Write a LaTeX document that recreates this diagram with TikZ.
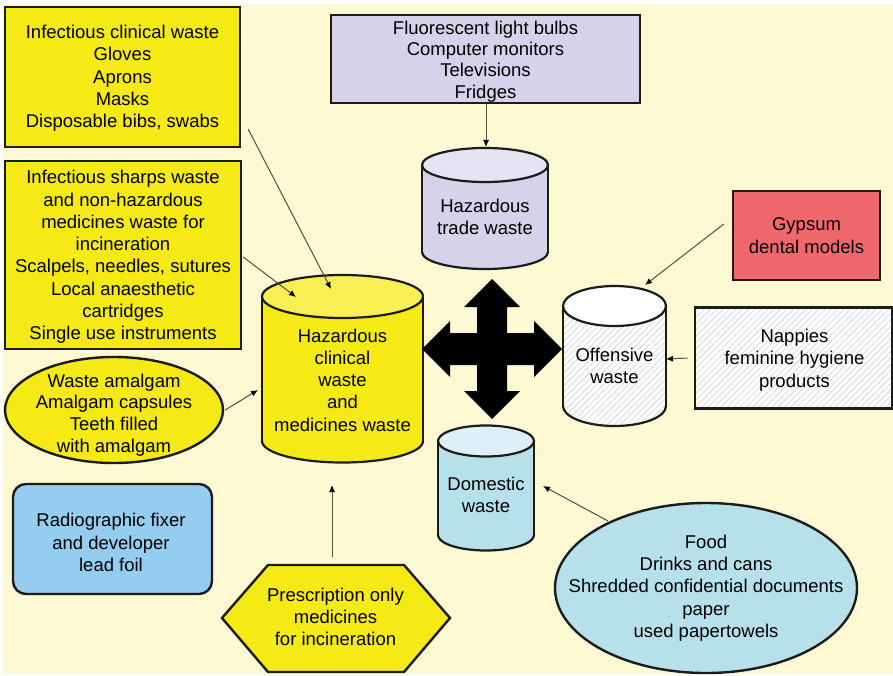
\documentclass[tikz,border=0pt]{standalone}
\usepackage{fontspec}
\setmainfont{Liberation Sans}
\usetikzlibrary{arrows.meta,shapes.geometric,patterns.meta}
\definecolor{bg}{RGB}{254,249,211}
\definecolor{ylw}{RGB}{246,234,22}
\definecolor{ylwtop}{RGB}{248,239,85}
\definecolor{lav}{RGB}{213,210,234}
\definecolor{lavtop}{RGB}{230,228,243}
\definecolor{gyp}{RGB}{240,104,108}
\definecolor{radb}{RGB}{149,205,240}
\definecolor{cyanb}{RGB}{183,225,234}
\definecolor{cyantop}{RGB}{222,240,247}
\definecolor{edgec}{RGB}{28,28,28}
\definecolor{conncol}{RGB}{85,75,65}
\newcommand{\mycyl}[7]{%
  \fill[#6] (#1,#4) ellipse [x radius=#2pt, y radius=#5pt];
  \draw[cylline] (#1,#4) ellipse [x radius=#2pt, y radius=#5pt];
  \fill[#6] (#1-#2,#3) rectangle (#1+#2,#4);
  \draw[cylline] (#1-#2,#3) -- (#1-#2,#4) (#1+#2,#3) -- (#1+#2,#4);
  \filldraw[cylline, #7] (#1,#3) ellipse [x radius=#2pt, y radius=#5pt];
}
\begin{document}
\begin{tikzpicture}[x=1pt,y=-1pt,
  txt/.style={font=\fontsize{18.5}{22.3}\selectfont, align=center, text=black, inner sep=0pt},
  box/.style={draw=edgec, line width=2.4pt, inner sep=0pt},
  conn/.style={draw=conncol, line width=1pt, -{Latex[length=7pt,width=6pt,color=black]}},
  hatch/.style={preaction={fill=white}, pattern={Lines[angle=45,distance=4.5pt,line width=0.6pt]}, pattern color=black!18},
  cylline/.style={draw=edgec, line width=2.2pt},
]
\useasboundingbox (0,0) rectangle (893,676);
\fill[bg] (3,4) rectangle (893,674);

% boxes
\node[box, fill=ylw, minimum width=235pt, minimum height=140pt] (box1) at (122.5,77) {};
\node[txt] (box1t) at (122.5,78.5)
  {Infectious clinical waste\\Gloves\\Aprons\\Masks\\Disposable bibs, swabs};
\node[box, fill=ylw, minimum width=236pt, minimum height=188pt] (box2) at (123,255) {};
\node[txt] (box2t) at (123,257)
  {Infectious sharps waste\\and non-hazardous\\medicines waste for\\incineration\\Scalpels, needles, sutures\\Local anaesthetic\\cartridges\\Single use instruments};
\node[box, fill=lav, minimum width=309pt, minimum height=88pt] (lav) at (485.5,59) {};
\node[txt, font=\fontsize{18.5}{21.3}\selectfont] (lavt) at (485.5,61.5)
  {Fluorescent light bulbs\\Computer monitors\\Televisions\\Fridges};
\node[box, fill=gyp, minimum width=147pt, minimum height=89pt] (gyp) at (806.5,235.5) {};
\node[txt] (gypt) at (806.5,235.5) {Gypsum\\dental models};
\node[box, hatch, minimum width=197pt, minimum height=101pt] (nap) at (793.5,358) {};
\node[txt] (napt) at (794.5,360) {Nappies\\feminine hygiene\\products};
\node[box, fill=radb, rounded corners=13pt, minimum width=199pt, minimum height=110pt] (rad) at (112.5,539) {};
\node[txt] (radt) at (111,542.5) {Radiographic fixer\\and developer\\lead foil};
\node[box, ellipse, fill=ylw, minimum width=218pt, minimum height=106pt] (amal) at (114,410) {};
\node[txt, font=\fontsize{18.5}{21.7}\selectfont] (amalt) at (114,415)
  {Waste amalgam\\Amalgam capsules\\Teeth filled\\with amalgam};
\node[box, ellipse, fill=cyanb, minimum width=302pt, minimum height=170pt] (food) at (706,588) {};
\node[txt] (foodt) at (706,588)
  {Food\\Drinks and cans\\Shredded confidential documents\\paper\\used papertowels};

% hexagon
\filldraw[draw=edgec, line width=2.4pt, fill=ylw] (222,618) -- (268,565) -- (404,565) -- (450,618) -- (404,672) -- (268,672) -- cycle;
\node[txt] (hex) at (335.5,617) {Prescription only\\medicines\\for incineration};

% cylinders
\mycyl{485}{63}{165}{252}{17}{lav}{fill=lavtop}
\node[txt] (trade) at (485,217) {Hazardous\\trade waste};
\mycyl{342.5}{80.5}{296.5}{441}{21.5}{ylw}{fill=ylwtop}
\node[txt] (hcw) at (342.5,380) {Hazardous\\clinical\\waste\\and\\medicines waste};
\mycyl{614.5}{51.5}{306}{406}{20}{hatch}{fill=white}
\node[txt] (off) at (614.5,366) {Offensive\\waste};
\mycyl{486}{48}{441}{535}{15.5}{cyanb}{fill=cyantop}
\node[txt] (dom) at (486,495) {Domestic\\waste};

% four-way arrow
\fill[black, shift={(492,349)}, y=1pt]
  (0,70) -- (28,42) -- (15,42) -- (15,16) -- (42,16) -- (42,28) -- (70,0) -- (42,-28) -- (42,-16) -- (15,-16) -- (15,-42) -- (28,-42) -- (0,-70) -- (-28,-42) -- (-15,-42) -- (-15,-16) -- (-42,-16) -- (-42,-28) -- (-70,0) -- (-42,28) -- (-42,16) -- (-15,16) -- (-15,42) -- (-28,42) -- cycle;

% connector end points
\coordinate (hcwA) at (331,289);
\coordinate (hcwB) at (296,297);
\coordinate (hcwC) at (258,390);
\coordinate (hcwD) at (332,485);
\coordinate (tradeTop) at (486,147);
\coordinate (offA) at (645,285);
\coordinate (offB) at (666,359);
\coordinate (domA) at (543,486);

% connectors
\draw[conn] ([shift={(7,-19)}]box1.south east) -- (hcwA);
\draw[conn] ([shift={(1,2)}]box2.east) -- (hcwB);
\draw[conn] ([shift={(1,0)}]amal.east) -- (hcwC);
\draw[conn] ([shift={(-3.5,-8)}]hex.north |- 0,565) -- (hcwD);
\draw[conn] ([xshift=0.5pt]lav.south) -- (tradeTop);
\draw[conn] ([shift={(-8,-11.5)}]gyp.west) -- (offA);
\draw[conn] ([xshift=-7pt]nap.west) -- (offB);
\draw[conn] ([shift={(-98,-67)}]food.center) -- (domA);
\end{tikzpicture}
\end{document}
